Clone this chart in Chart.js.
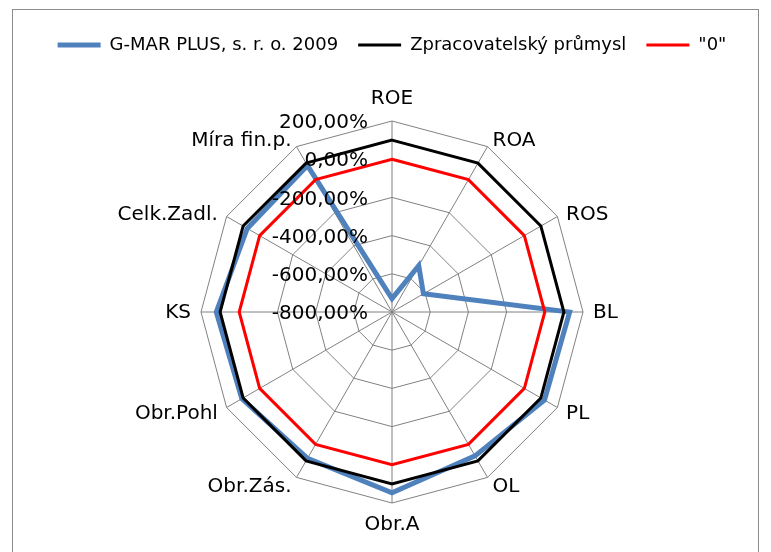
<!DOCTYPE html>
<html>
<head>
<meta charset="utf-8">
<title>Radar</title>
<script src="https://cdn.jsdelivr.net/npm/chart.js@4.4.0/dist/chart.umd.min.js"></script>
<style>
  html, body { margin: 0; padding: 0; background: #fff; }
  #wrap { position: relative; width: 771px; height: 552px; overflow: hidden; }
  #frame { position: absolute; left: 12px; top: 9px; width: 745px; height: 580px; border: 1px solid #8c8c8c; }
  canvas { position: absolute; left: 0; top: 0; }
</style>
</head>
<body>
<div id="wrap">
  <div id="frame"></div>
  <canvas id="radar" width="771" height="552"></canvas>
</div>
<script>
// Ukazatele (osy grafu)
const categories = ['ROE', 'ROA', 'ROS', 'BL', 'PL', 'OL', 'Obr.A', 'Obr.Zás.', 'Obr.Pohl', 'KS', 'Celk.Zadl.', 'Míra fin.p.'];

// Hodnoty v % (odvětví = 100 %)
const gmarValues = [-730, -520, -610, 130, 122, 70, 147, 85, 108, 120, 75, 85];
const industryValues = [100, 100, 100, 100, 100, 100, 100, 100, 100, 100, 100, 100];
const zeroValues = [0, 0, 0, 0, 0, 0, 0, 0, 0, 0, 0, 0];

// Osa hodnot
const axisMin = -800;
const axisMax = 200;
const axisStep = 200;

const labelFont = '20px "DejaVu Sans"';

// extra space under the legend so the web sits lower
const legendSpacer = {
    id: 'legendSpacer',
    beforeInit(chart) {
        const origFit = chart.legend.fit;
        chart.legend.fit = function fit() {
            origFit.bind(chart.legend)();
            this.height += 57;
        };
    }
};

// value labels left of the vertical axis + category names around the rim
const axisText = {
    id: 'axisText',
    afterDraw(chart) {
        const scale = chart.scales.r;
        const ctx = chart.ctx;
        ctx.save();
        ctx.fillStyle = '#000';
        ctx.font = labelFont;

        ctx.textAlign = 'right';
        ctx.textBaseline = 'middle';
        scale.ticks.forEach(t => {
            const y = scale.yCenter - scale.getDistanceFromCenterForValue(t.value);
            ctx.fillText(t.value.toFixed(2).replace('.', ',') + '%', scale.xCenter - 24, y + 2);
        });

        chart.data.labels.forEach((name, i) => {
            const deg = Math.round(scale.getIndexAngle(i) * 180 / Math.PI) % 360;
            const vertical = deg === 0 || deg === 180;
            const p = scale.getPointPosition(i, scale.drawingArea + (vertical ? 12 : 10));
            let y = p.y;
            if (!vertical) {
                y += (deg < 90 || deg > 270) ? 3 : 1;
            }
            ctx.textAlign = vertical ? 'center' : (deg < 180 ? 'left' : 'right');
            ctx.textBaseline = deg === 0 ? 'bottom' : (deg === 180 ? 'top' : 'middle');
            ctx.fillText(name, p.x, y);
        });
        ctx.restore();
    }
};

function series(label, data, color, width, order) {
    return {
        label: label,
        data: data,
        borderColor: color,
        backgroundColor: color,
        borderWidth: width,
        fill: false,
        order: order,
        pointRadius: 0,
        pointHoverRadius: 0,
        pointStyle: 'line',
        pointBorderColor: color,
        pointBorderWidth: width
    };
}

const ctx = document.getElementById('radar').getContext('2d');
new Chart(ctx, {
    type: 'radar',
    data: {
        labels: categories,
        datasets: [
            series('G-MAR PLUS, s. r. o. 2009', gmarValues, '#4F81BD', 5, 3),
            series('Zpracovatelský průmysl', industryValues, '#000000', 3, 2),
            series('"0"', zeroValues, '#FF0000', 3, 1)
        ]
    },
    options: {
        responsive: false,
        animation: false,
        layout: { padding: { top: 16, left: 13, right: 0, bottom: 49 } },
        elements: { line: { tension: 0 } },
        plugins: {
            legend: {
                position: 'top',
                labels: {
                    usePointStyle: true,
                    pointStyleWidth: 43,
                    padding: 20,
                    color: '#000',
                    font: { family: 'DejaVu Sans', size: 18 },
                    sort: (a, b) => a.datasetIndex - b.datasetIndex
                }
            },
            tooltip: { enabled: false }
        },
        scales: {
            r: {
                min: axisMin,
                max: axisMax,
                ticks: { stepSize: axisStep, display: false },
                grid: { color: '#808080', lineWidth: 1 },
                angleLines: { color: '#808080', lineWidth: 1 },
                pointLabels: { display: false }
            }
        }
    },
    plugins: [legendSpacer, axisText]
});
</script>
</body>
</html>
